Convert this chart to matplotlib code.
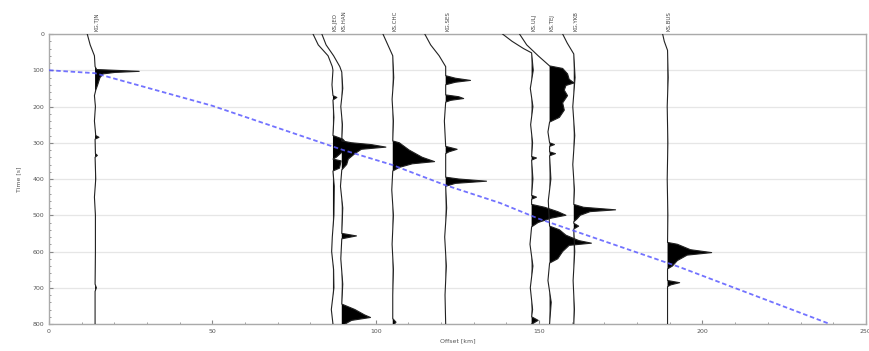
import numpy as np
import matplotlib.pyplot as plt
from matplotlib.ticker import MultipleLocator
import matplotlib.transforms as mtransforms

# station names and baseline offsets [km]
names = ["KG.TJN", "KS.JEO", "KS.HAN", "KS.CHC", "KG.SES", "KS.ULJ", "KS.TEJ", "KG.YKB", "KS.BUS"]
offsets = [14.1, 86.9, 89.6, 105.2, 121.4, 147.7, 153.2, 160.6, 189.3]

# each trace: time samples [s] and deflection [km]
t_a = [0, 30, 60, 90, 98, 103, 106, 110, 120, 140, 155, 170, 200, 240, 280, 285, 290, 330, 335, 340, 400, 450, 500, 600, 690, 700, 710, 800]
a_a = [-2.4, -1.5, -0.2, 0, 0.5, 13.5, 6, 2.5, 1.5, 0.8, 0.2, -0.2, 0.1, -0.2, 0.2, 1.2, 0, 0.1, 0.7, 0, 0.2, -0.2, 0.1, 0.1, 0, 0.4, 0, 0]

t_b1 = [0, 30, 60, 90, 100, 140, 170, 175, 182, 230, 280, 290, 300, 320, 340, 345, 350, 370, 378, 420, 500, 560, 600, 650, 700, 760, 800]
a_b1 = [-6.1, -4.5, -1.5, -0.2, 0, -0.3, 0, 1.2, 0, 0.3, 0, 3, 4, 3.5, 1, 0, 2.5, 2, 0, 0.4, 0.3, -0.2, -0.4, 0.2, 0.3, -0.5, 0]

t_b2 = [0, 30, 60, 90, 105, 150, 200, 250, 295, 300, 305, 312, 318, 330, 345, 360, 375, 420, 480, 550, 557, 565, 620, 690, 745, 760, 775, 782, 790, 800]
a_b2 = [-6.1, -4.8, -2.5, -0.6, 0, 0.3, -0.3, 0.2, 0, 3, 9, 13.5, 6, 4, 2, 1.5, 0, -0.4, 0.3, 0, 4.5, 0, -0.3, 0.3, 0, 4, 7, 8.8, 3, 1]

t_c = [0, 30, 60, 120, 180, 240, 295, 300, 320, 340, 352, 358, 368, 378, 430, 500, 580, 650, 720, 785, 795, 800]
a_c = [-3, -1.5, 0, 0.3, -0.2, 0.2, 0, 2, 5, 9, 12.8, 6, 2, 0, -0.3, 0.2, -0.2, 0.2, 0, 0, 1, 0.5]

t_d = [0, 30, 60, 90, 115, 122, 128, 133, 140, 168, 173, 178, 183, 188, 240, 310, 318, 325, 330, 395, 400, 406, 412, 420, 480, 560, 640, 720, 800]
a_d = [-6.4, -4.6, -2, 0, 0, 3, 7.6, 3, 0, 0, 4, 5.5, 1.5, 0, -0.4, 0, 3.5, 1, 0, 0, 4, 12.5, 3, 0, 0.3, -0.3, 0.2, -0.2, 0]

t_e = [0, 20, 40, 52, 100, 150, 200, 250, 300, 338, 342, 348, 400, 445, 450, 456, 470, 478, 490, 500, 508, 520, 532, 580, 640, 700, 760, 780, 790, 798, 800]
a_e = [-8.9, -6, -2.5, 0, 0.5, -0.4, 0.4, -0.3, 0.3, 0, 1.5, 0, 0.4, 0, 1.5, 0, 0, 4, 8, 10.5, 6, 2, 0, -0.5, 0.4, -0.4, 0.3, 0, 2, 0.5, 0]

t_f = [0, 30, 60, 88, 95, 110, 125, 135, 142, 155, 170, 190, 210, 230, 243, 270, 300, 305, 310, 325, 330, 336, 400, 460, 530, 540, 555, 570, 577, 583, 600, 620, 632, 680, 740, 800]
a_f = [-9.2, -7, -3.5, 0, 4, 5.5, 6, 7.5, 5, 4.5, 5.5, 4, 4.5, 3, 0, -0.5, 0, 1.5, 0, 0, 1.8, 0, 0.4, -0.4, 0, 3, 5, 9, 12.8, 6, 4, 2.5, 0, -0.5, 0.5, 0]

t_g = [0, 25, 55, 120, 200, 280, 360, 430, 470, 478, 485, 490, 500, 510, 518, 522, 530, 538, 600, 680, 760, 800]
a_g = [-3.4, -2, 0, 0.4, -0.3, 0.3, -0.3, 0.2, 0, 3, 12.8, 5, 2, 1, 0, 0, 1.5, 0, 0.3, -0.2, 0.2, 0]

t_h = [0, 20, 45, 120, 200, 300, 400, 500, 575, 580, 595, 603, 610, 625, 640, 648, 680, 686, 692, 697, 750, 800]
a_h = [-1.5, -1, 0, 0.2, -0.1, 0.1, -0.1, 0.1, 0, 3, 7, 13.5, 6, 3, 1.5, 0, 0, 3.7, 1, 0, 0, 0]

traces_t = [t_a, t_b1, t_b2, t_c, t_d, t_e, t_f, t_g, t_h]
traces_a = [a_a, a_b1, a_b2, a_c, a_d, a_e, a_f, a_g, a_h]

# predicted arrival curve
curve_x = [0, 14, 50, 90, 105, 121, 138, 150, 193, 239]
curve_t = [100, 108, 198, 320, 361, 416, 466, 510, 643, 800]

fig = plt.figure(figsize=(8.69, 3.51), dpi=100)
ax = fig.add_axes([0.0564, 0.0769, 0.94, 0.8262])

for i in range(len(offsets)):
    t = np.array(traces_t[i], dtype=float)
    a = np.array(traces_a[i], dtype=float)
    x0 = offsets[i]
    ax.fill_betweenx(t, x0, x0 + a, where=a > 0, interpolate=True, color="black", lw=0, zorder=3)
    ax.plot(x0 + a, t, color="#222222", lw=0.8, zorder=3)

ax.plot(curve_x, curve_t, color="#5a5aff", lw=1.3, ls=(0, (2.5, 1.5)), alpha=0.85, zorder=4)

ax.set_xlim(0, 250)
ax.set_ylim(800, 0)
ax.xaxis.set_major_locator(MultipleLocator(50))
ax.xaxis.set_minor_locator(MultipleLocator(10))
ax.yaxis.set_major_locator(MultipleLocator(100))
ax.yaxis.set_minor_locator(MultipleLocator(20))
ax.yaxis.grid(True, color="#e6e6e6", lw=0.9)
ax.set_axisbelow(True)
ax.tick_params(which="both", direction="in", labelsize=4.5, colors="#888888", labelcolor="#555555")
ax.tick_params(which="major", length=3)
ax.tick_params(which="minor", length=1.5)
for s in ax.spines.values():
    s.set_color("#aaaaaa")
    s.set_linewidth(1.0)

ax.set_xlabel("Offset [km]", fontsize=4.5, color="#555555", labelpad=3)
ax.set_ylabel("Time [s]", fontsize=4.5, color="#555555", labelpad=8)

trans = mtransforms.blended_transform_factory(ax.transData, ax.transAxes)
for x0, name in zip(offsets, names):
    ax.text(x0 + 0.6, 1.01, name, rotation=90, ha="center", va="bottom",
            fontsize=4, color="#444444", transform=trans, clip_on=False)

fig.savefig("out.png", dpi=100)
